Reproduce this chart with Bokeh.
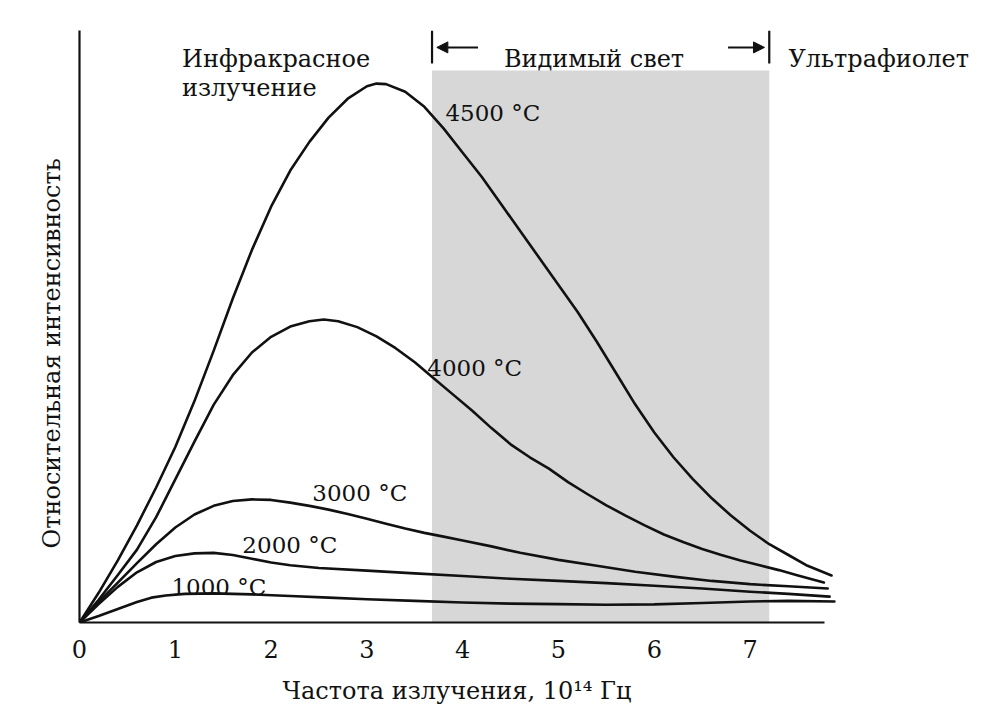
from bokeh.plotting import figure
from bokeh.models import Range1d, FixedTicker, Arrow, NormalHead, ColumnDataSource, Title
from bokeh.core.properties import value
from bokeh.embed import file_html
from bokeh.resources import INLINE

# ---- data (frequency in 10^14 Hz, relative intensity) ----
freq_4500 = [0, 0.2, 0.4, 0.6, 0.8, 1.0, 1.2, 1.4, 1.6, 1.8, 2.0, 2.2, 2.4, 2.6, 2.8, 3.0, 3.1, 3.2,
             3.4, 3.6, 3.8, 4.0, 4.2, 4.4, 4.6, 4.8, 5.0, 5.2, 5.4, 5.6, 5.8, 6.0, 6.2, 6.4, 6.6,
             6.8, 7.0, 7.2, 7.4, 7.6, 7.85]
int_4500 = [0, 5.5, 11.5, 18.0, 25.0, 32.5, 41.0, 50.3, 60.0, 69.0, 77.0, 83.7, 89.0, 93.5, 97.0,
            99.3, 99.8, 99.7, 98.3, 95.5, 91.5, 87.0, 82.5, 77.5, 72.5, 67.5, 62.5, 57.5, 52.0,
            46.2, 40.4, 35.2, 30.6, 26.6, 23.0, 19.8, 17.0, 14.5, 12.5, 10.5, 8.7]

freq_4000 = [0, 0.2, 0.4, 0.6, 0.8, 1.0, 1.2, 1.4, 1.6, 1.8, 2.0, 2.2, 2.4, 2.55, 2.7, 2.9, 3.1,
             3.3, 3.5, 3.7, 3.9, 4.1, 4.3, 4.5, 4.7, 4.9, 5.1, 5.3, 5.5, 5.7, 5.9, 6.1, 6.3, 6.5,
             6.7, 6.9, 7.1, 7.3, 7.5, 7.77]
int_4000 = [0, 4.2, 8.8, 13.5, 19.5, 26.5, 33.5, 40.3, 45.8, 50.0, 52.9, 54.8, 55.8, 56.1, 55.8,
            54.7, 53.0, 50.8, 48.2, 45.2, 42.2, 39.2, 36.0, 33.0, 30.6, 28.5, 26.0, 23.8, 21.7,
            19.8, 18.0, 16.3, 14.9, 13.6, 12.5, 11.5, 10.6, 9.7, 8.7, 7.4]

freq_3000 = [0, 0.2, 0.4, 0.6, 0.8, 1.0, 1.2, 1.4, 1.6, 1.8, 2.0, 2.2, 2.4, 2.6, 2.8, 3.0, 3.2,
             3.4, 3.6, 3.8, 4.0, 4.3, 4.6, 5.0, 5.4, 5.8, 6.2, 6.6, 7.0, 7.4, 7.81]
int_3000 = [0, 3.8, 7.4, 11.0, 14.5, 17.6, 20.0, 21.6, 22.5, 22.8, 22.7, 22.2, 21.6, 20.9, 20.1,
            19.2, 18.3, 17.4, 16.6, 15.9, 15.2, 14.1, 12.9, 11.6, 10.5, 9.4, 8.5, 7.7, 7.1, 6.7, 6.3]

freq_2000 = [0, 0.2, 0.4, 0.6, 0.8, 1.0, 1.2, 1.4, 1.6, 1.8, 2.0, 2.2, 2.5, 3.0, 3.5, 4.0, 4.5,
             5.0, 5.5, 6.0, 6.5, 7.0, 7.4, 7.83]
int_2000 = [0, 3.4, 6.6, 9.3, 11.2, 12.3, 12.8, 12.9, 12.5, 11.8, 11.1, 10.6, 10.1, 9.6, 9.1,
            8.6, 8.1, 7.7, 7.3, 6.8, 6.3, 5.7, 5.3, 4.8]

freq_1000 = [0, 0.2, 0.4, 0.6, 0.75, 0.9, 1.1, 1.4, 1.8, 2.2, 2.6, 3.0, 3.5, 4.0, 4.5, 5.0, 5.5,
             6.0, 6.5, 7.0, 7.4, 7.88]
int_1000 = [0, 1.2, 2.5, 3.8, 4.6, 5.0, 5.3, 5.4, 5.2, 4.9, 4.6, 4.3, 4.0, 3.7, 3.5, 3.4, 3.3,
            3.35, 3.6, 3.9, 4.0, 3.9]

curve_names = ["4500 °C", "4000 °C", "3000 °C", "2000 °C", "1000 °C"]
tick_values = [0, 1, 2, 3, 4, 5, 6, 7]
visible_band = [3.68, 7.20]          # visible light range, 10^14 Hz
band_top = 102.2

x_title = "Частота излучения, 10¹⁴ Гц"
y_title = "Относительная интенсивность"
region_texts = ["Инфракрасное", "излучение", "Видимый свет", "Ультрафиолет"]

FONT = "DejaVu Serif"
INK = "#111111"

p = figure(width=997, height=720, output_backend="svg", toolbar_location=None,
           title=None,
           x_range=Range1d(0, (997 - 79) / 95.8), y_range=Range1d(0, 622 / 5.4),
           min_border_left=79, min_border_right=0, min_border_top=0, min_border_bottom=98)
p.grid.visible = False
p.outline_line_color = None
p.background_fill_color = "white"
p.border_fill_color = "white"

# axes
xa = p.xaxis[0]
xa.ticker = FixedTicker(ticks=tick_values)
xa.bounds = (0, 7.78)
xa.major_tick_out = 0
xa.major_tick_in = 0
xa.minor_tick_out = 0
xa.minor_tick_in = 0
xa.major_label_standoff = 17
xa.major_label_text_font = FONT
xa.major_label_text_font_size = "24px"
xa.major_label_text_color = INK
xa.axis_line_width = 2.2
xa.axis_line_color = INK

ya = p.yaxis[0]
ya.ticker = FixedTicker(ticks=[])
ya.bounds = (0, 109.6)
ya.major_tick_out = 0
ya.major_tick_in = 0
ya.minor_tick_out = 0
ya.minor_tick_in = 0
ya.major_label_text_font_size = "0px"
ya.axis_line_width = 2.2
ya.axis_line_color = INK

# axis titles
p.add_layout(Title(text=x_title, align="left", offset=203, text_font=FONT,
                   text_font_size="24px", text_font_style="normal", text_color=INK,
                   standoff=29), "below")
p.add_layout(Title(text=y_title, align="left", offset=74, text_font=FONT,
                   text_font_size="24px", text_font_style="normal", text_color=INK,
                   standoff=28), "left")

# visible band
p.quad(left=[visible_band[0]], right=[visible_band[1]], bottom=[0], top=[band_top],
       fill_color="#d7d7d7", line_color=None)

# curves
for fx, fy in [(freq_4500, int_4500), (freq_4000, int_4000), (freq_3000, int_3000),
               (freq_2000, int_2000), (freq_1000, int_1000)]:
    p.line(fx, fy, line_color=INK, line_width=2.6, line_join="round", line_cap="round")

# curve labels
lab_src = ColumnDataSource(dict(
    x=[3.82, 3.63, 2.43, 1.70, 0.96],
    y=[94.3, 47.2, 23.9, 14.3, 6.5],
    t=curve_names))
p.text(x="x", y="y", text="t", source=lab_src, text_font=value(FONT),
       text_font_size="23px", text_color=INK, text_baseline="alphabetic", text_align="left")

# region headings
head_src = ColumnDataSource(dict(
    x=[1.07, 1.07, 4.43, 7.40],
    y=[104.4, 99.0, 104.4, 104.4],
    t=region_texts))
p.text(x="x", y="y", text="t", source=head_src, text_font=value(FONT),
       text_font_size="24px", text_color=INK, text_baseline="alphabetic", text_align="left")

# band limit bars and arrows
p.segment(x0=visible_band, x1=visible_band, y0=[103.5, 103.5], y1=[109.6, 109.6],
          line_color=INK, line_width=2.2)
p.add_layout(Arrow(x_start=4.16, y_start=106.5, x_end=visible_band[0] + 0.05, y_end=106.5,
                   line_color=INK, line_width=2,
                   end=NormalHead(size=11, fill_color=INK, line_color=INK)))
p.add_layout(Arrow(x_start=6.77, y_start=106.5, x_end=visible_band[1] - 0.05, y_end=106.5,
                   line_color=INK, line_width=2,
                   end=NormalHead(size=11, fill_color=INK, line_color=INK)))

open("out.html", "w").write(file_html(p, INLINE))
